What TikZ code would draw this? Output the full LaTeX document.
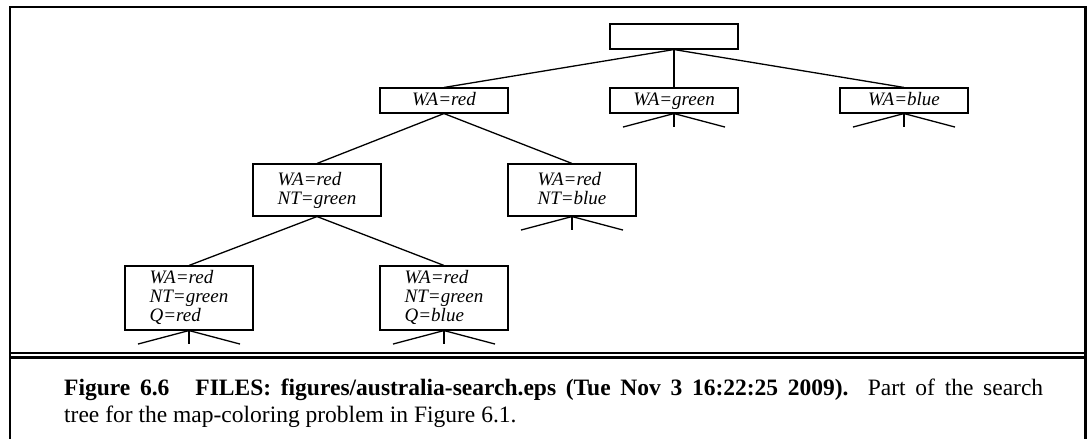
\documentclass[tikz,border=0pt]{standalone}
\usepackage{fontspec}
\setmainfont{Liberation Serif}
\usetikzlibrary{calc}
\begin{document}
\begin{tikzpicture}[x=1pt,y=-1pt,
  box/.style={draw, line width=1.1pt, minimum width=128pt, inner sep=0pt,
              font=\fontsize{19}{19}\selectfont\itshape},
  boxa/.style={box, minimum height=25pt, text height=13pt, text depth=4pt},
  boxb/.style={box, minimum height=52pt, align=left},
  boxc/.style={box, minimum height=64pt, align=left},
  edge/.style={line width=1.3pt},
  framerule/.style={line width=2.5pt, line join=miter},
  captext/.style={anchor=base west, inner sep=0pt, font=\fontsize{23.5}{27}\selectfont}]
\useasboundingbox (0,0) rectangle (1087,439);
% frame
\draw[framerule] (10,440) -- (10,7) -- (1085.5,7) -- (1085.5,440);
\draw[line width=2.4pt] (10,352.8) -- (1085.5,352.8);
\draw[line width=2.4pt] (10,357.6) -- (1085.5,357.6);
% nodes
\node[boxa] (root) at (674,36.5) {};
\node[boxa] (wr) at (444,100.5) {WA=red};
\node[boxa] (wg) at (674,100.5) {WA=green};
\node[boxa] (wb) at (904,100.5) {WA=blue};
\node[boxb] (ng) at (317,190) {WA=red\\NT=green};
\node[boxb] (nb) at (572,190) {WA=red\\NT=blue\vphantom{g}};
\node[boxc] (qr) at (189,298) {WA=red\\NT=green\\Q=red\vphantom{g}};
\node[boxc] (qb) at (444,298) {WA=red\\NT=green\\Q=blue\vphantom{g}};
% edges
\draw[edge] (root.south) -- (wr.north);
\draw[edge] (root.south) -- (wg.north);
\draw[edge] (root.south) -- (wb.north);
\draw[edge] (wr.south) -- (ng.north);
\draw[edge] (wr.south) -- (nb.north);
\draw[edge] (ng.south) -- (qr.north);
\draw[edge] (ng.south) -- (qb.north);
% stubs
\foreach \n in {wg,wb,nb,qr,qb}{
  \coordinate (\n-l) at ($(\n.south)+(-51,13.5)$);
  \coordinate (\n-m) at ($(\n.south)+(0,13.5)$);
  \coordinate (\n-r) at ($(\n.south)+(51,13.5)$);
  \draw[edge] (\n.south) -- (\n-l);
  \draw[edge] (\n.south) -- (\n-m);
  \draw[edge] (\n.south) -- (\n-r);
}
% caption
\node[captext] (cap1) at (64,395) {\makebox[979pt][s]{\textbf{Figure 6.6}\hspace{26pt}\textbf{FILES: figures/australia-search.eps (Tue Nov 3 16:22:25 2009).} Part of the search}};
\node[captext] (cap2) at (64,422) {tree for the map-coloring problem in Figure 6.1.};
\end{tikzpicture}
\end{document}
